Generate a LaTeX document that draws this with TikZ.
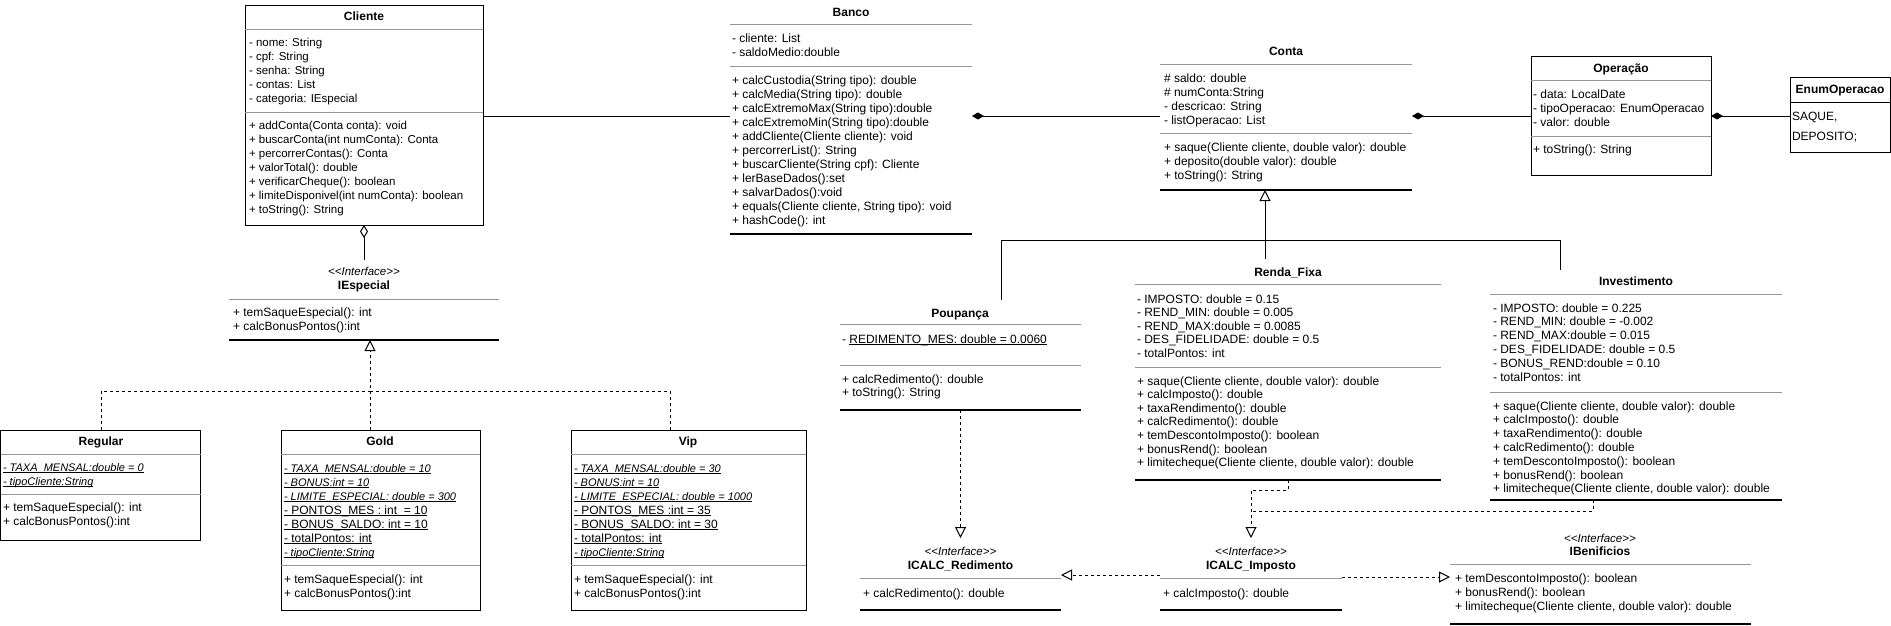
\documentclass[tikz,border=0pt]{standalone}
\usepackage{fontspec}
\setmainfont{Liberation Sans}
\usetikzlibrary{arrows.meta}
\definecolor{sepgray}{RGB}{150,150,150}
\newcommand\ulx[1]{\setbox0\hbox{#1}\rlap{\rule[-1.6pt]{\wd0}{0.8pt}}\box0}
\newcommand\clines[1]{\begin{tabular}[t]{@{}l@{}}#1\end{tabular}}
\newcommand\stereotxt{\textless\kern0pt\textless Interface\textgreater\kern0pt\textgreater}
\newcommand\fsA{\fontsize{12}{14}\selectfont}
\newcommand\fsB{\fontsize{12}{13.6}\selectfont}
\newcommand\fsC{\fontsize{12}{13.8}\selectfont}
\newcommand\stit[1]{{\fontsize{11}{14}\selectfont\itshape\ulx{#1}}}
\begin{document}
\begin{tikzpicture}[x=1pt,y=-1pt,
  every node/.style={inner sep=0pt, outer sep=0pt},
  txt/.style={anchor=base west, font=\fsA},
  ttl/.style={anchor=base, font=\bfseries\fsA},
  ster/.style={anchor=base, font=\itshape\fontsize{11.5}{14}\selectfont},
  box/.style={draw, line width=1pt, anchor=north west},
  region/.style={anchor=north west},
  sepl/.style={draw=sepgray, line width=1pt},
  botl/.style={draw=black, line width=1.1pt},
  link/.style={line width=1pt},
  dsh/.style={line width=1pt, dash pattern=on 3pt off 3pt},
  inh/.style={-{Triangle[open,length=11pt,width=11pt]}},
  comp/.style={{Diamond[length=12pt,width=7pt]}-},
  agg/.style={{Diamond[open,length=13pt,width=8pt]}-},
]
\useasboundingbox (0,0) rectangle (1891,625);
\fill[white] (0,0) rectangle (1891,625);

% ---------- Cliente ----------
\node[box, minimum width=238pt, minimum height=220pt] (cliente) at (245,5) {};
\node[ttl] (cliente-t) at (364,20) {Cliente};
\draw[sepl] (245,29) -- (483,29);
\node[txt, font=\fontsize{11.5}{14}\selectfont] (cliente-a) at (249,46) {\clines{- nome: String\\- cpf: String\\- senha: String\\- contas: List\\- categoria: IEspecial}};
\draw[sepl] (245,112) -- (483,112);
\node[txt, font=\fontsize{11.5}{14}\selectfont] (cliente-m) at (249,129) {\clines{+ addConta(Conta conta): void\\+ buscarConta(int numConta): Conta\\+ percorrerContas(): Conta\\+ valorTotal(): double\\+ verificarCheque(): boolean\\+ limiteDisponivel(int numConta): boolean\\+ toString(): String}};

% ---------- Banco ----------
\node[region, minimum width=242pt, minimum height=234pt] (banco) at (730,0) {};
\node[ttl] (banco-t) at (851,16) {Banco};
\draw[sepl] (730,24) -- (972,24);
\node[txt] (banco-a) at (732,42) {\clines{- cliente: List\\- saldoMedio:double}};
\draw[sepl] (730,66) -- (972,66);
\node[txt] (banco-m) at (732,84) {\clines{+ calcCustodia(String tipo): double\\+ calcMedia(String tipo): double\\+ calcExtremoMax(String tipo):double\\+ calcExtremoMin(String tipo):double\\+ addCliente(Cliente cliente): void\\+ percorrerList(): String\\+ buscarCliente(String cpf): Cliente\\+ lerBaseDados():set\\+ salvarDados():void\\+ equals(Cliente cliente, String tipo): void\\+ hashCode(): int}};
\draw[botl] (730,234) -- (972,234);

% ---------- Conta ----------
\node[region, minimum width=252pt, minimum height=150pt] (conta) at (1160,40) {};
\node[ttl] (conta-t) at (1286,55) {Conta};
\draw[sepl] (1160,64) -- (1412,64);
\node[txt] (conta-a) at (1164,82) {\clines{\# saldo: double\\\# numConta:String\\- descricao: String\\- listOperacao: List}};
\draw[sepl] (1160,133) -- (1412,133);
\node[txt] (conta-m) at (1164,151) {\clines{+ saque(Cliente cliente, double valor): double\\+ deposito(double valor): double\\+ toString(): String}};
\draw[botl] (1160,190) -- (1412,190);

% ---------- Operacao ----------
\node[box, minimum width=180pt, minimum height=119pt] (operacao) at (1531,56) {};
\node[ttl] (operacao-t) at (1621,72) {Operação};
\draw[sepl] (1531,80) -- (1711,80);
\node[txt] (operacao-a) at (1533,98) {\clines{- data: LocalDate\\- tipoOperacao: EnumOperacao\\- valor: double}};
\draw[sepl] (1531,136) -- (1711,136);
\node[txt] (operacao-m) at (1533,153) {\clines{+ toString(): String}};

% ---------- EnumOperacao ----------
\node[box, minimum width=100pt, minimum height=75pt] (enum) at (1790,77) {};
\node[ttl] (enum-t) at (1840,93) {EnumOperacao};
\draw[link] (1790,102) -- (1890,102);
\node[txt, font=\fontsize{12}{20}\selectfont] (enum-a) at (1792,120) {\clines{SAQUE,\\DEPOSITO;}};

% ---------- IEspecial ----------
\node[region, minimum width=270pt, minimum height=80pt] (iesp) at (229,260) {};
\node[ster] (iesp-s) at (364,275) {\stereotxt};
\node[ttl] (iesp-t) at (364,289) {IEspecial};
\draw[sepl] (229,299) -- (499,299);
\node[txt] (iesp-m) at (233,316) {\clines{+ temSaqueEspecial(): int\\+ calcBonusPontos():int}};
\draw[botl] (229,340) -- (499,340);

% ---------- Regular ----------
\node[box, minimum width=200pt, minimum height=110pt] (regular) at (0.5,430) {};
\node[ttl] (regular-t) at (101,445) {Regular};
\draw[sepl] (0.5,454) -- (200.5,454);
\node[txt] (regular-a) at (3,471) {\clines{\stit{- TAXA\_MENSAL:double = 0}\\\stit{- tipoCliente:String}}};
\draw[sepl] (0.5,494) -- (200.5,494);
\node[txt] (regular-m) at (3,511) {\clines{+ temSaqueEspecial(): int\\+ calcBonusPontos():int}};

% ---------- Gold ----------
\node[box, minimum width=199pt, minimum height=180pt] (gold) at (281,430) {};
\node[ttl] (gold-t) at (380,445) {Gold};
\draw[sepl] (281,454) -- (480,454);
\node[txt] (gold-a) at (284,472) {\clines{\stit{- TAXA\_MENSAL:double = 10}\\\stit{- BONUS:int = 10}\\\stit{- LIMITE\_ESPECIAL: double = 300}\\\ulx{- PONTOS\_MES : int\ \ = 10}\\\ulx{- BONUS\_SALDO: int = 10}\\\ulx{- totalPontos: int}\\\stit{- tipoCliente:String}}};
\draw[sepl] (281,565) -- (480,565);
\node[txt] (gold-m) at (284,583) {\clines{+ temSaqueEspecial(): int\\+ calcBonusPontos():int}};

% ---------- Vip ----------
\node[box, minimum width=235pt, minimum height=180pt] (vip) at (571,430) {};
\node[ttl] (vip-t) at (688,445) {Vip};
\draw[sepl] (571,454) -- (806,454);
\node[txt] (vip-a) at (574,472) {\clines{\stit{- TAXA\_MENSAL:double = 30}\\\stit{- BONUS:int = 10}\\\stit{- LIMITE\_ESPECIAL: double = 1000}\\\ulx{- PONTOS\_MES :int = 35}\\\ulx{- BONUS\_SALDO: int = 30}\\\ulx{- totalPontos: int}\\\stit{- tipoCliente:String}}};
\draw[sepl] (571,565) -- (806,565);
\node[txt] (vip-m) at (574,583) {\clines{+ temSaqueEspecial(): int\\+ calcBonusPontos():int}};

% ---------- Poupanca ----------
\node[region, minimum width=241pt, minimum height=110pt] (poup) at (840,300) {};
\node[ttl] (poup-t) at (960,317) {Poupança};
\draw[sepl] (840,324) -- (1081,324);
\node[txt] (poup-a) at (842,343) {\clines{- \ulx{REDIMENTO\_MES: double = 0.0060}}};
\draw[sepl] (840,365) -- (1081,365);
\node[txt, font=\fsB] (poup-m) at (842,383) {\clines{+ calcRedimento(): double\\+ toString(): String}};
\draw[botl] (840,410) -- (1081,410);

% ---------- Renda_Fixa ----------
\node[region, minimum width=306pt, minimum height=221pt] (renda) at (1135,259) {};
\node[ttl] (renda-t) at (1288,276) {Renda\_Fixa};
\draw[sepl] (1135,284) -- (1441,284);
\node[txt, font=\fsB] (renda-a) at (1137,303) {\clines{- IMPOSTO: double = 0.15\\- REND\_MIN: double = 0.005\\- REND\_MAX:double = 0.0085\\- DES\_FIDELIDADE: double = 0.5\\- totalPontos: int}};
\draw[sepl] (1135,367) -- (1441,367);
\node[txt, font=\fsB] (renda-m) at (1137,385) {\clines{+ saque(Cliente cliente, double valor): double\\+ calcImposto(): double\\+ taxaRendimento(): double\\+ calcRedimento(): double\\+ temDescontoImposto(): boolean\\+ bonusRend(): boolean\\+ limitecheque(Cliente cliente, double valor): double}};
\draw[botl] (1135,480) -- (1441,480);

% ---------- Investimento ----------
\node[region, minimum width=292pt, minimum height=230pt] (invest) at (1490,270) {};
\node[ttl] (invest-t) at (1636,285) {Investimento};
\draw[sepl] (1490,294) -- (1782,294);
\node[txt, font=\fsC] (invest-a) at (1493,312) {\clines{- IMPOSTO: double = 0.225\\- REND\_MIN: double = -0.002\\- REND\_MAX:double = 0.015\\- DES\_FIDELIDADE: double = 0.5\\- BONUS\_REND:double = 0.10\\- totalPontos: int}};
\draw[sepl] (1490,392) -- (1782,392);
\node[txt, font=\fsC] (invest-m) at (1493,410) {\clines{+ saque(Cliente cliente, double valor): double\\+ calcImposto(): double\\+ taxaRendimento(): double\\+ calcRedimento(): double\\+ temDescontoImposto(): boolean\\+ bonusRend(): boolean\\+ limitecheque(Cliente cliente, double valor): double}};
\draw[botl] (1490,500) -- (1782,500);

% ---------- ICALC_Redimento ----------
\node[region, minimum width=201pt, minimum height=72pt] (icr) at (860,538) {};
\node[ster] (icr-s) at (960.5,555) {\stereotxt};
\node[ttl] (icr-t) at (960.5,569) {ICALC\_Redimento};
\draw[sepl] (860,578) -- (1061,578);
\node[txt] (icr-m) at (863,597) {\clines{+ calcRedimento(): double}};
\draw[botl] (860,610) -- (1061,610);

% ---------- ICALC_Imposto ----------
\node[region, minimum width=182pt, minimum height=72pt] (ici) at (1160,538) {};
\node[ster] (ici-s) at (1251,555) {\stereotxt};
\node[ttl] (ici-t) at (1251,569) {ICALC\_Imposto};
\draw[sepl] (1160,578) -- (1342,578);
\node[txt] (ici-m) at (1163,597) {\clines{+ calcImposto(): double}};
\draw[botl] (1160,610) -- (1342,610);

% ---------- IBenificios ----------
\node[region, minimum width=301pt, minimum height=99pt] (iben) at (1450,525) {};
\node[ster] (iben-s) at (1600,542) {\stereotxt};
\node[ttl] (iben-t) at (1600,555) {IBenificios};
\draw[sepl] (1450,564) -- (1751,564);
\node[txt] (iben-m) at (1455,582) {\clines{+ temDescontoImposto(): boolean\\+ bonusRend(): boolean\\+ limitecheque(Cliente cliente, double valor): double}};
\draw[botl] (1450,624) -- (1751,624);

% ---------- connectors ----------
\coordinate (r116) at (0,116);
\draw[link] (cliente.east |- r116) -- (banco.west |- r116);
\draw[link, comp] (banco.east |- r116) -- (conta.west |- r116);
\draw[link, comp] (conta.east |- r116) -- (operacao.west |- r116);
\draw[link, comp] (operacao.east |- r116) -- (enum.west |- r116);
\draw[link, agg] (cliente.south) -- (iesp.north);

% generalisation of Conta
\coordinate (conta-out) at (1265,190);
\coordinate (bus1) at (1265,240);
\coordinate (poup-in) at (1001,300);
\coordinate (renda-in) at (1265,259);
\coordinate (inv-in) at (1560,270);
\draw[link] (poup-in) |- (bus1);
\draw[link] (inv-in) |- (bus1);
\draw[link, inh] (renda-in) -- (conta-out);

% realisation of IEspecial
\coordinate (iesp-in) at (370,340);
\coordinate (bus2) at (370,391);
\coordinate (reg-out) at (101,430);
\coordinate (gold-out) at (370,430);
\coordinate (vip-out) at (670,430);
\draw[dsh] (reg-out) |- (bus2);
\draw[dsh] (vip-out) |- (bus2);
\draw[dsh, inh] (gold-out) -- (iesp-in);

% realisations of the calc interfaces
\coordinate (renda-out) at (1288,480);
\coordinate (inv-out) at (1593,500);
\coordinate (r511) at (0,511);
\draw[dsh, inh] (poup.south) -- (icr.north);
\draw[dsh, inh] (renda-out) -- ++(0,10) -| (ici.north);
\draw[dsh] (inv-out) |- (ici.north |- r511);
\coordinate (r575) at (0,575);
\coordinate (r577) at (0,577);
\draw[dsh, inh] (ici.west |- r575) -- (icr.east |- r575);
\draw[dsh, inh] (ici.east |- r577) -- (iben.west |- r577);
\end{tikzpicture}
\end{document}
